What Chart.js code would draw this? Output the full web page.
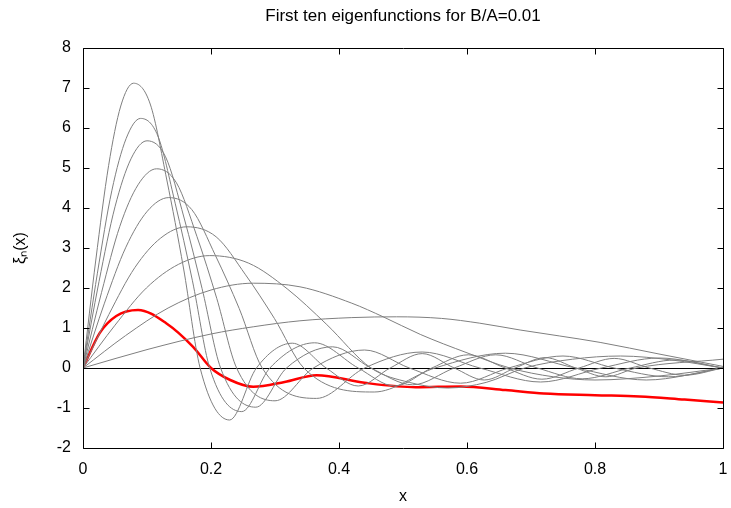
<!DOCTYPE html>
<html>
<head>
<meta charset="utf-8">
<title>First ten eigenfunctions for B/A=0.01</title>
<script src="https://cdn.jsdelivr.net/npm/chart.js@4.4.1/dist/chart.umd.min.js"></script>
<style>
  html, body { margin: 0; padding: 0; background: #fff; }
  #chart { display: block; }
</style>
</head>
<body>
<canvas id="chart" width="731" height="508"></canvas>
<script>
// eigenfunction curves, values (x, xi_n(x))
const n1X = [0, 0.1, 0.2, 0.266, 0.339, 0.42, 0.49, 0.56, 0.62, 0.683, 0.745, 0.808, 0.9, 1.0];
const n1Y = [0, 0.46, 0.85, 1.03, 1.18, 1.26, 1.28, 1.24, 1.12, 0.95, 0.8, 0.64, 0.35, 0.04];

const n2X = [0, 0.0665, 0.133, 0.2, 0.266, 0.339, 0.42, 0.469, 0.527, 0.6, 0.667, 0.735, 0.8, 0.9, 1.0];
const n2Y = [0, 0.81, 1.5, 1.95, 2.12, 2.03, 1.62, 1.28, 0.84, 0.38, 0, -0.22, -0.3, -0.2, 0];

const n3X = [0, 0.05, 0.099, 0.149, 0.198, 0.259, 0.319, 0.38, 0.45, 0.51, 0.57, 0.63, 0.69, 0.765, 0.84, 0.92, 1.0];
const n3Y = [0, 1.07, 2.0, 2.59, 2.81, 2.62, 1.98, 1.1, 0, -0.36, -0.5, -0.36, 0, 0.22, 0.3, 0.2, 0];

const n4X = [0, 0.0405, 0.081, 0.1215, 0.162, 0.208, 0.254, 0.299, 0.345, 0.455, 0.55, 0.66, 0.77, 0.88, 1.0];
const n4Y = [0, 1.34, 2.51, 3.25, 3.53, 3.28, 2.33, 1.24, 0, -0.6, 0, 0.37, 0, -0.3, 0];

const n5X = [0, 0.0335, 0.067, 0.1005, 0.134, 0.17, 0.207, 0.244, 0.28, 0.365, 0.44, 0.53, 0.62, 0.715, 0.81, 0.9, 1.0];
const n5Y = [0, 1.62, 3.02, 3.92, 4.26, 3.96, 2.81, 1.49, 0, -0.76, 0, 0.4, 0, -0.35, 0, 0.25, 0];

const n6X = [0, 0.029, 0.0575, 0.086, 0.115, 0.146, 0.178, 0.209, 0.24, 0.3, 0.36, 0.44, 0.51, 0.59, 0.665, 0.75, 0.83, 0.915, 1.0];
const n6Y = [0, 1.89, 3.54, 4.58, 4.98, 4.63, 3.29, 1.74, 0, -0.82, 0, 0.45, 0, -0.38, 0, 0.3, 0, -0.22, 0];

const n7X = [0, 0.025, 0.05, 0.075, 0.1, 0.129, 0.158, 0.186, 0.215, 0.27, 0.318, 0.39, 0.45, 0.515, 0.58, 0.645, 0.71, 0.78, 0.855, 0.925, 1.0];
const n7Y = [0, 2.16, 4.03, 5.23, 5.68, 5.28, 3.75, 1.99, 0, -0.98, 0, 0.53, 0, -0.42, 0, 0.33, 0, -0.27, 0, 0.2, 0];

const n8X = [0, 0.0225, 0.045, 0.0675, 0.09, 0.117, 0.144, 0.171, 0.198, 0.248, 0.292, 0.362, 0.43, 0.487, 0.545, 0.602, 0.66, 0.717, 0.775, 0.83, 0.885, 0.94, 1.0];
const n8Y = [0, 2.37, 4.43, 5.74, 6.24, 5.8, 4.12, 2.18, 0, -1.09, 0, 0.63, 0, -0.45, 0, 0.33, 0, -0.28, 0, 0.24, 0, -0.18, 0];

const n9X = [0, 0.02, 0.04, 0.059, 0.079, 0.105, 0.131, 0.157, 0.183, 0.229, 0.271, 0.327, 0.38, 0.43, 0.48, 0.53, 0.58, 0.627, 0.675, 0.722, 0.77, 0.817, 0.865, 1.0];
const n9Y = [0, 2.7, 5.06, 6.55, 7.12, 6.6, 4.7, 2.5, 0, -1.3, 0, 0.62, 0, -0.45, 0, 0.36, 0, -0.3, 0, 0.26, 0, -0.22, 0, 0.22];

// the red curve
const redX = [0, 0.026, 0.052, 0.086, 0.13, 0.172, 0.2, 0.23, 0.266, 0.315, 0.365, 0.44, 0.52, 0.59, 0.66, 0.72, 0.8, 0.87, 0.94, 1.0];
const redY = [0, 0.87, 1.3, 1.45, 1.12, 0.53, 0, -0.3, -0.47, -0.35, -0.18, -0.37, -0.48, -0.46, -0.55, -0.64, -0.68, -0.71, -0.79, -0.86];

const xRange = [0, 1];
const yRange = [-2, 8];
const xStep = 0.2;
const yStep = 1;

const GRAY = '#7f7f7f';
const RED = '#ff0000';
const TICK = 6;

Chart.defaults.font.family = "'Liberation Sans', Arial, Helvetica, sans-serif";
Chart.defaults.font.size = 16;
Chart.defaults.color = '#000';

const toPoints = (xs, ys) => xs.map((x, i) => ({ x, y: ys[i] }));

const grayCurves = [
  [n1X, n1Y], [n2X, n2Y], [n3X, n3Y], [n4X, n4Y], [n5X, n5Y],
  [n6X, n6Y], [n7X, n7Y], [n8X, n8Y], [n9X, n9Y]
];

const datasets = grayCurves.map(([xs, ys], i) => ({
  label: 'n=' + (i + 1),
  data: toPoints(xs, ys),
  borderColor: GRAY,
  borderWidth: 1,
  pointRadius: 0,
  cubicInterpolationMode: 'monotone',
  fill: false
}));

datasets.push({
  label: 'red',
  data: toPoints(redX, redY),
  borderColor: RED,
  borderWidth: 2.5,
  pointRadius: 0,
  cubicInterpolationMode: 'monotone',
  fill: false
});

/**
 * gnuplot-like frame: box round the plot with inward ticks on all four sides
 */
const framePlugin = {
  id: 'frame',
  afterDraw(chart) {
    const { ctx, chartArea: a, scales: { x, y } } = chart;
    const L = Math.round(a.left) + 0.5, R = Math.round(a.right) + 0.5;
    const T = Math.round(a.top) + 0.5, B = Math.round(a.bottom) + 0.5;
    ctx.save();
    ctx.strokeStyle = '#000';
    ctx.lineWidth = 1;
    ctx.beginPath();
    x.ticks.forEach(t => {
      const px = Math.round(x.getPixelForValue(t.value)) + 0.5;
      ctx.moveTo(px, B); ctx.lineTo(px, B - TICK);
      ctx.moveTo(px, T); ctx.lineTo(px, T + TICK);
    });
    y.ticks.forEach(t => {
      const py = Math.round(y.getPixelForValue(t.value)) + 0.5;
      ctx.moveTo(L, py); ctx.lineTo(L + TICK, py);
      ctx.moveTo(R, py); ctx.lineTo(R - TICK, py);
    });
    ctx.rect(L, T, R - L, B - T);
    ctx.stroke();
    ctx.restore();
  }
};

new Chart(document.getElementById('chart').getContext('2d'), {
  type: 'line',
  data: { datasets },
  options: {
    responsive: false,
    animation: false,
    layout: { padding: { left: 0, right: 8, top: 0, bottom: 0 } },
    plugins: {
      legend: { display: false },
      tooltip: { enabled: false },
      title: {
        display: true,
        fullSize: false,
        text: 'First ten eigenfunctions for B/A=0.01',
        color: '#000',
        font: { size: 17, weight: 'normal' },
        padding: { top: 6, bottom: 21.6 }
      }
    },
    scales: {
      x: {
        type: 'linear',
        min: xRange[0],
        max: xRange[1],
        ticks: {
          stepSize: xStep,
          padding: 12,
          color: '#000',
          callback: v => String(Math.round(v * 10) / 10)
        },
        grid: { display: false, drawTicks: false },
        border: { display: false },
        title: { display: true, text: 'x', color: '#000', padding: { top: 0, bottom: 2 } },
        afterFit(s) { s.height = 60; s.paddingLeft = 0; s.paddingRight = 0; }
      },
      y: {
        type: 'linear',
        min: yRange[0],
        max: yRange[1],
        ticks: { stepSize: yStep, padding: 12, color: '#000' },
        grid: {
          drawTicks: false,
          lineWidth: 1,
          color: c => (c.tick && c.tick.value === 0 ? '#000' : 'rgba(0,0,0,0)')
        },
        border: { display: false },
        title: { display: true, text: 'ξₙ(x)', color: '#000', padding: { top: 11, bottom: 0 } },
        afterFit(s) { s.width = 83; s.paddingTop = 0; s.paddingBottom = 0; }
      }
    }
  },
  plugins: [framePlugin]
});
</script>
</body>
</html>
